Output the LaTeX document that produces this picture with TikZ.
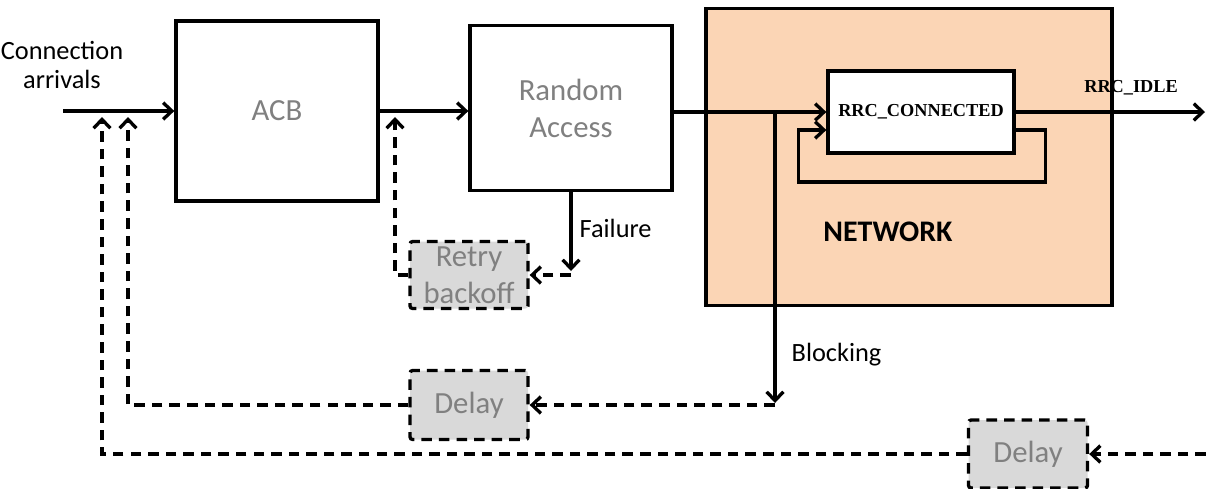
\documentclass[tikz,border=0pt]{standalone}
\usepackage{fontspec}
\setmainfont{Carlito}
\newfontfamily\rrcfont{Liberation Serif}
\usetikzlibrary{arrows.meta,calc}
\definecolor{netfill}{RGB}{251,213,181}
\definecolor{boxfill}{RGB}{217,217,217}
\definecolor{boxtext}{RGB}{128,128,128}

\begin{document}
\begin{tikzpicture}[x=0.02cm,y=-0.02cm,line width=1.9pt,
  >={Straight Barb[length=5pt,width=9.5pt]},
  block/.style={draw,fill=white,inner sep=0pt,align=center,text=boxtext,font=\fontsize{17.5}{21}\selectfont},
  waitbox/.style={block,fill=boxfill,dash pattern=on 6pt off 4pt,rounded corners=1.5pt},
  back/.style={->,dash pattern=on 6pt off 4pt},
  lbl/.style={font=\fontsize{15}{17}\selectfont,inner sep=0pt}]
\useasboundingbox (0,0) rectangle (1206,488);

% boxes
\node[block,minimum width=202*0.02cm,minimum height=180*0.02cm] (acb) at (277,111) {ACB};
\node[block,minimum width=202*0.02cm,minimum height=165*0.02cm] (ra) at (571,108) {Random\\Access};
\node[draw,fill=netfill,minimum width=406*0.02cm,minimum height=297*0.02cm] (net) at (909,157) {};
\node[draw,fill=white,inner sep=0pt,minimum width=186*0.02cm,minimum height=82*0.02cm,font=\rrcfont\bfseries\fontsize{10.4}{12}\selectfont] (rrc) at (921,112) {RRC\_CONNECTED};
\node[font=\bfseries\fontsize{17}{20}\selectfont] (nettxt) at (888,232) {NETWORK};
\node[waitbox,minimum width=118*0.02cm,minimum height=67*0.02cm] (retry) at (469,275) {Retry\\backoff};
\node[waitbox,minimum width=118*0.02cm,minimum height=69*0.02cm] (delayA) at (469,405) {Delay};
\node[waitbox,minimum width=119*0.02cm,minimum height=68*0.02cm] (delayB) at (1028,454) {Delay};

% labels
\node[lbl,align=center] (arrtxt) at (62,65) {Connection\\arrivals};
\node[lbl,anchor=west] (failtxt) at (578,228) {Failure};
\node[lbl,anchor=west] (blktxt) at (790,355) {Blocking};
\node[font=\rrcfont\bfseries\fontsize{10.4}{12}\selectfont] (idletxt) at (1131,88) {RRC\_IDLE};

\coordinate (in) at (63,111);
\coordinate (out) at (1205,112);
\coordinate (blk) at (775,112);
\coordinate (blkend) at (775,405);
\coordinate (ext) at (1206,454);

% forward path
\draw[->] (in) -- (in -| acb.west);
\draw[->] (acb.east) -- (acb.east -| ra.west);
\draw[->] (ra.east |- rrc.west) -- (rrc.west);
\draw[->] (rrc.east) -- (out);
\draw[->] ($(rrc.east)+(0,18)$) -- ++(30,0) -- ++(0,52) -| ($(rrc.west)+(-28,18)$) -- ($(rrc.west)+(0,18)$);

% failure and blocking
\draw[->] (ra.south) -- ($(ra.south |- retry.east)+(0,-4)$);
\draw[back] (ra.south |- retry.east) -- (retry.east);
\draw[->] (blk) -- ($(blkend)+(0,-2)$);
\draw[back] (blkend) -- (delayA.east);

% retrials
\draw[back] (retry.west) -| (395,117);
\draw[back] (delayA.west) -| (128,117);
\draw[back] (ext) -- (delayB.east);
\draw[back] (delayB.west) -| (102,117);
\end{tikzpicture}
\end{document}
